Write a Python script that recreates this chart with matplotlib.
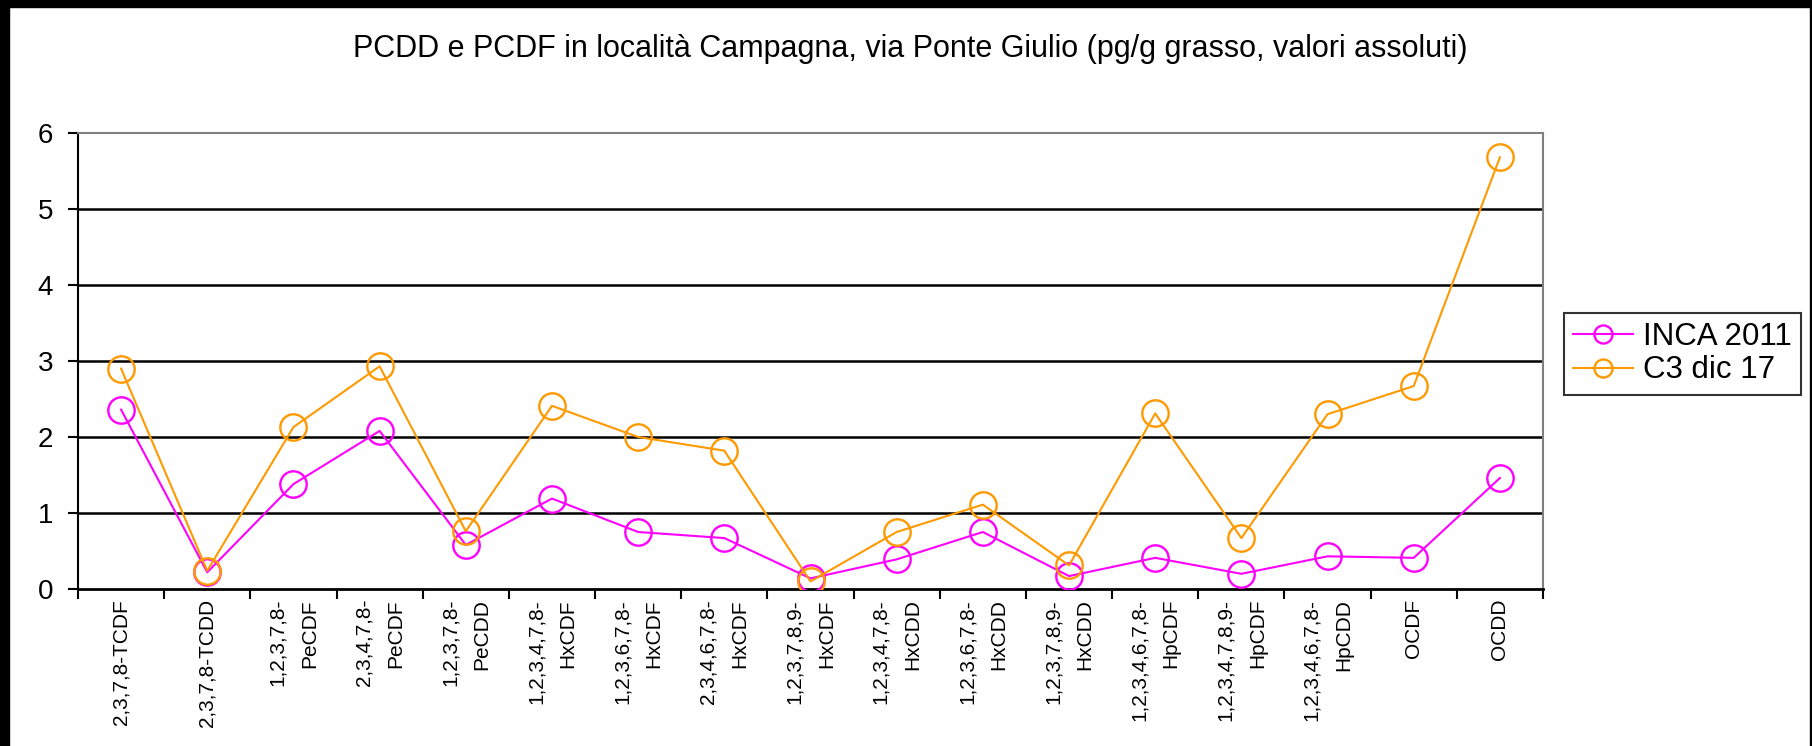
import matplotlib
matplotlib.use("Agg")
import matplotlib.pyplot as plt
from matplotlib.patches import Rectangle

plt.rcParams['font.family'] = ['Liberation Sans', 'DejaVu Sans']

# congeneri (etichette asse x)
congeneri = [
    "2,3,7,8-TCDF",
    "2,3,7,8-TCDD",
    "1,2,3,7,8-\nPeCDF",
    "2,3,4,7,8-\nPeCDF",
    "1,2,3,7,8-\nPeCDD",
    "1,2,3,4,7,8-\nHxCDF",
    "1,2,3,6,7,8-\nHxCDF",
    "2,3,4,6,7,8-\nHxCDF",
    "1,2,3,7,8,9-\nHxCDF",
    "1,2,3,4,7,8-\nHxCDD",
    "1,2,3,6,7,8-\nHxCDD",
    "1,2,3,7,8,9-\nHxCDD",
    "1,2,3,4,6,7,8-\nHpCDF",
    "1,2,3,4,7,8,9-\nHpCDF",
    "1,2,3,4,6,7,8-\nHpCDD",
    "OCDF",
    "OCDD",
]

inca_2011 = [2.36, 0.22, 1.38, 2.08, 0.58, 1.19, 0.75, 0.67, 0.14, 0.39,
             0.75, 0.17, 0.41, 0.20, 0.43, 0.41, 1.46]
c3_dic17 = [2.90, 0.24, 2.13, 2.93, 0.76, 2.41, 2.00, 1.82, 0.10, 0.75,
            1.11, 0.31, 2.31, 0.67, 2.30, 2.67, 5.68]

y_ticks = [0, 1, 2, 3, 4, 5, 6]

W, H = 1812, 746
fig = plt.figure(figsize=(W / 100, H / 100), dpi=100)

ax = fig.add_axes([78 / W, 1 - 589 / H, (1543 - 78) / W, (589 - 133) / H])

x = list(range(len(congeneri)))
ax.plot(x, inca_2011, color="#FF00FF", lw=1.5, marker="o", ms=19,
        mfc="none", mew=1.7, label="INCA 2011", zorder=3)
ax.plot(x, c3_dic17, color="#FF9900", lw=1.5, marker="o", ms=19,
        mfc="none", mew=1.7, label="C3 dic 17", zorder=3)

ax.set_ylim(0, 6)
ax.set_xlim(-0.5, len(congeneri) - 0.5)
ax.set_yticks(y_ticks)
ax.set_yticklabels([str(v) for v in y_ticks], fontsize=20)
ax.tick_params(axis="y", length=7, width=1.5, direction="out", pad=11)

# griglia orizzontale nera
for v in y_ticks[1:-1]:
    ax.axhline(v, color="black", lw=1.8, zorder=1)

# tacche tra le categorie
ax.set_xticks([i - 0.5 for i in range(len(congeneri) + 1)])
ax.set_xticklabels([])
ax.tick_params(axis="x", length=7, width=1.5, direction="out")
for i, lab in enumerate(congeneri):
    ax.annotate(lab, xy=(i, 0), xycoords=("data", "axes fraction"),
                xytext=(0, -10), textcoords="offset pixels",
                rotation=90, ha="center", va="top",
                multialignment="right", fontsize=15, linespacing=1.85,
                annotation_clip=False)

for s in ["top", "right"]:
    ax.spines[s].set_color("#808080")
    ax.spines[s].set_linewidth(1.5)
ax.spines["left"].set_linewidth(1.5)
ax.spines["bottom"].set_linewidth(2)

fig.text(910 / W, 1 - 57 / H,
         "PCDD e PCDF in località Campagna, via Ponte Giulio (pg/g grasso, valori assoluti)",
         ha="center", va="baseline", fontsize=22)

leg = fig.legend(loc="upper left", bbox_to_anchor=(1564 / W, 1 - 313 / H),
                 fontsize=22.5, frameon=True, fancybox=False, handlelength=1.9,
                 handletextpad=0.33, borderpad=0.3, labelspacing=0.1,
                 borderaxespad=0)
leg.get_frame().set_edgecolor("black")
leg.get_frame().set_linewidth(1.5)
for h in leg.legend_handles:
    h.set_markersize(13)

# cornice nera dello screenshot
fig.patches.append(Rectangle((0, 1 - 7 / H), 1, 7 / H, transform=fig.transFigure,
                             color="black", zorder=10))
fig.patches.append(Rectangle((0, 0), 9 / W, 1, transform=fig.transFigure,
                             color="black", zorder=10))
fig.patches.append(Rectangle((1 - 2 / W, 0), 2 / W, 1, transform=fig.transFigure,
                             color="black", zorder=10))

fig.savefig("out.png", dpi=100)
